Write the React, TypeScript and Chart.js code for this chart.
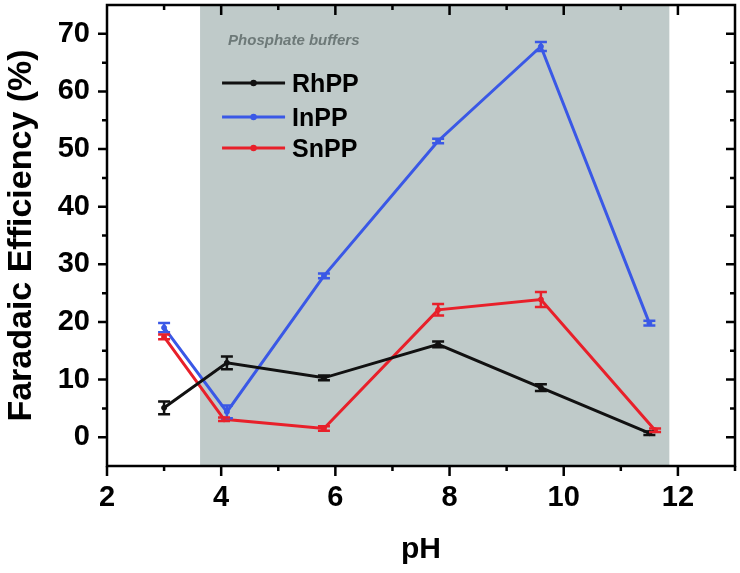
import React, { useEffect, useRef } from "react";
import { Chart, registerables } from "chart.js";

Chart.register(...registerables);

// ---- data ----
const rhPH = [3.0, 4.1, 5.8, 7.8, 9.6, 11.5];
const rhFE = [5.1, 12.9, 10.3, 16.1, 8.6, 0.7];
const rhErr = [1.1, 1.1, 0.4, 0.5, 0.6, 0.3];

const inPH = [3.0, 4.1, 5.8, 7.8, 9.6, 11.5];
const inFE = [19.0, 4.4, 28.0, 51.4, 67.8, 19.8];
const inErr = [0.8, 1.1, 0.4, 0.4, 0.8, 0.4];

const snPH = [3.0, 4.05, 5.8, 7.8, 9.6, 11.6];
const snFE = [17.4, 3.1, 1.5, 22.1, 23.9, 1.2];
const snErr = [0.4, 0.3, 0.4, 1.0, 1.3, 0.3];

const seriesLabels = ["RhPP", "InPP", "SnPP"];
const shadeRange = [3.63, 11.85];
const shadeLabel = "Phosphate buffers";
const xTitle = "pH";
const yTitle = "Faradaic Efficiency (%)";

const FONT = "'Liberation Sans', Arial, Helvetica, sans-serif";
const COLORS = ["#111111", "#3a58e6", "#e8202a"];

const toPts = (xs: number[], ys: number[]) => xs.map((x, i) => ({ x, y: ys[i] }));

const decor = {
  id: "decor",
  beforeDatasetsDraw(chart: any) {
    const { ctx, chartArea: a, scales } = chart;
    const x = scales.x;
    const x0 = x.getPixelForValue(shadeRange[0]);
    const x1 = x.getPixelForValue(shadeRange[1]);
    ctx.save();
    ctx.fillStyle = "#bfcac9";
    ctx.fillRect(x0, a.top, x1 - x0, a.bottom - a.top);
    ctx.fillStyle = "#6d7978";
    ctx.font = `italic bold 15px ${FONT}`;
    ctx.textBaseline = "alphabetic";
    ctx.textAlign = "left";
    ctx.fillText(shadeLabel, x0 + 28, a.top + 40);
    ctx.restore();
  },
  afterDatasetsDraw(chart: any) {
    const { ctx, scales } = chart;
    const x = scales.x;
    const y = scales.y;
    ctx.save();
    chart.data.datasets.forEach((ds: any) => {
      const errs: number[] = ds.errors || [];
      ctx.strokeStyle = ds.borderColor;
      ctx.lineWidth = 2.5;
      ds.data.forEach((p: any, i: number) => {
        const e = errs[i] || 0;
        const px = x.getPixelForValue(p.x);
        const yt = y.getPixelForValue(p.y + e);
        const yb = y.getPixelForValue(p.y - e);
        ctx.beginPath();
        ctx.moveTo(px, yt);
        ctx.lineTo(px, yb);
        ctx.moveTo(px - 6, yt);
        ctx.lineTo(px + 6, yt);
        ctx.moveTo(px - 6, yb);
        ctx.lineTo(px + 6, yb);
        ctx.stroke();
      });
    });
    ctx.restore();
  },
  afterDraw(chart: any) {
    const { ctx, chartArea: a, scales } = chart;
    const x = scales.x;
    const y = scales.y;
    ctx.save();
    ctx.strokeStyle = "#000";
    ctx.lineWidth = 2.5;
    ctx.strokeRect(a.left, a.top, a.right - a.left, a.bottom - a.top);
    ctx.beginPath();
    y.ticks.forEach((t: any) => {
      const v = t.value;
      if (v <= y.min || v >= y.max) return;
      const py = y.getPixelForValue(v);
      const len = v % 10 === 0 ? 9 : 5;
      ctx.moveTo(a.left - len, py);
      ctx.lineTo(a.left, py);
      ctx.moveTo(a.right, py);
      ctx.lineTo(a.right - len, py);
    });
    x.ticks.forEach((t: any) => {
      const v = t.value;
      const px = x.getPixelForValue(v);
      const len = v % 2 === 0 ? 10 : 5;
      ctx.moveTo(px, a.bottom);
      ctx.lineTo(px, a.bottom + len);
      if (v > x.min && v < x.max) {
        ctx.moveTo(px, a.top);
        ctx.lineTo(px, a.top + len);
      }
    });
    ctx.stroke();

    // legend
    const lx0 = x.getPixelForValue(shadeRange[0]) + 22;
    const lx1 = lx0 + 63;
    const rowY = [a.top + 78, a.top + 112, a.top + 143];
    chart.data.datasets.forEach((ds: any, i: number) => {
      const ry = rowY[i];
      ctx.strokeStyle = ds.borderColor;
      ctx.lineWidth = 3;
      ctx.beginPath();
      ctx.moveTo(lx0, ry);
      ctx.lineTo(lx1, ry);
      ctx.stroke();
      ctx.beginPath();
      ctx.fillStyle = ds.borderColor;
      ctx.arc((lx0 + lx1) / 2, ry, 3.2, 0, Math.PI * 2);
      ctx.fill();
      ctx.fillStyle = "#000";
      ctx.font = `bold 25px ${FONT}`;
      ctx.textAlign = "left";
      ctx.textBaseline = "alphabetic";
      ctx.fillText(ds.label, lx1 + 7, ry + 9);
    });
    ctx.restore();
  },
};

export default function App() {
  const ref = useRef<HTMLCanvasElement | null>(null);

  useEffect(() => {
    if (!ref.current) return;
    const phs = [rhPH, inPH, snPH];
    const fes = [rhFE, inFE, snFE];
    const errs = [rhErr, inErr, snErr];
    const chart = new Chart(ref.current, {
      type: "line",
      data: {
        datasets: seriesLabels.map((label, i) => ({
          label,
          data: toPts(phs[i], fes[i]),
          errors: errs[i],
          borderColor: COLORS[i],
          backgroundColor: COLORS[i],
          borderWidth: 3,
          pointRadius: 2.5,
          pointBorderWidth: 1,
          pointBackgroundColor: COLORS[i],
          pointBorderColor: COLORS[i],
          tension: 0,
        })) as any,
      },
      options: {
        animation: false,
        responsive: false,
        devicePixelRatio: 1,
        layout: { padding: { top: 4, right: 3, left: 0, bottom: 0 } },
        plugins: {
          legend: { display: false },
          tooltip: { enabled: false },
        },
        scales: {
          x: {
            type: "linear",
            min: 2,
            max: 13,
            border: { display: false },
            grid: {
              display: true,
              drawOnChartArea: false,
              drawTicks: true,
              tickLength: 10,
              tickColor: "rgba(0,0,0,0)",
            },
            ticks: {
              stepSize: 1,
              autoSkip: false,
              maxRotation: 0,
              padding: 5,
              color: "#000",
              font: { family: FONT, size: 29, weight: "bold" },
              callback: (v: any) => (v % 2 === 0 && v <= 12 ? String(v) : ""),
            },
            title: {
              display: true,
              text: xTitle,
              color: "#000",
              font: { family: FONT, size: 30, weight: "bold" },
              padding: { top: 0, bottom: 5 },
            },
            afterFit: (s: any) => {
              s.height = 107;
              s.paddingLeft = 0;
              s.paddingRight = 0;
            },
          },
          y: {
            type: "linear",
            min: -5,
            max: 75,
            border: { display: false },
            grid: {
              display: true,
              drawOnChartArea: false,
              drawTicks: true,
              tickLength: 9,
              tickColor: "rgba(0,0,0,0)",
            },
            ticks: {
              stepSize: 5,
              autoSkip: false,
              padding: 8,
              color: "#000",
              font: { family: FONT, size: 29, weight: "bold" },
              callback: (v: any) => (v % 10 === 0 && v >= 0 && v <= 70 ? String(v) : ""),
            },
            title: {
              display: true,
              text: yTitle,
              color: "#000",
              font: { family: FONT, size: 34, weight: "bold" },
              padding: { top: 1, bottom: 0 },
            },
            afterFit: (s: any) => {
              s.width = 107;
              s.paddingTop = 0;
              s.paddingBottom = 0;
            },
          },
        },
      } as any,
      plugins: [decor],
    });
    return () => chart.destroy();
  }, []);

  return (
    <div style={{ position: "absolute", left: 0, top: 0, width: 740, height: 573, background: "#fff" }}>
      <canvas ref={ref} width={740} height={573} style={{ display: "block" }} />
    </div>
  );
}
